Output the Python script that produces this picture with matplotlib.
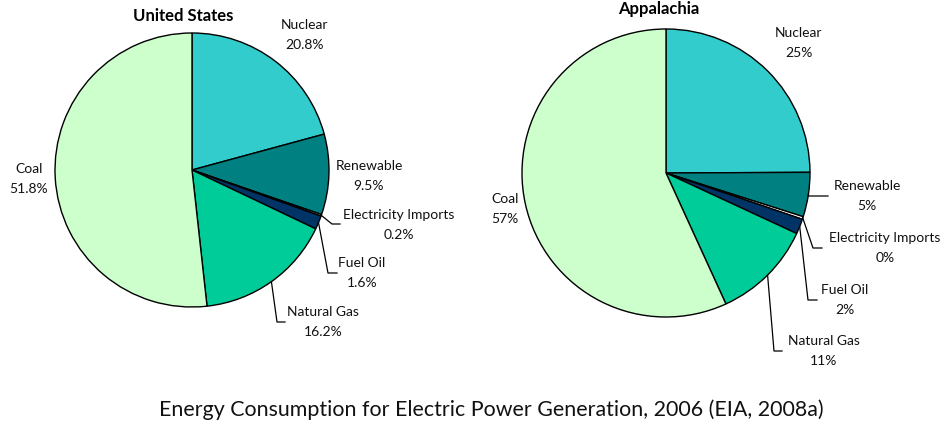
import matplotlib
matplotlib.use("Agg")
from matplotlib import pyplot as plt
import numpy as np

plt.rcParams['font.family'] = ['Lato', 'DejaVu Sans']

# data
sources = ['Nuclear', 'Renewable', 'Electricity Imports', 'Fuel Oil', 'Natural Gas', 'Coal']
us_share = [20.8, 9.5, 0.2, 1.6, 16.2, 51.8]
us_labels = ['20.8%', '9.5%', '0.2%', '1.6%', '16.2%', '51.8%']
app_share = [25, 5.0, 0.3, 1.7, 11.3, 57]
app_labels = ['25%', '5%', '0%', '2%', '11%', '57%']
colors = ['#33CCCC', '#008080', '#FFFFFF', '#003366', '#00CC99', '#CCFFCC']

W, H = 948, 428


def py(y):
    # pixel y (from top) -> data y
    return H - y


def draw_pie(ax, values, pct, center, radius, title, title_pos, label_pos, elbows):
    wedges, _ = ax.pie(values, colors=colors, startangle=90, counterclock=False,
                       center=(center[0], py(center[1])), radius=radius,
                       wedgeprops=dict(edgecolor='black', linewidth=1.0))
    ax.text(title_pos[0], py(title_pos[1]), title, ha='center', va='center',
            fontsize=12, fontweight='bold')
    for i, w in enumerate(wedges):
        tx, ty = label_pos[i]
        ax.text(tx, py(ty), sources[i] + '\n' + pct[i], ha='center', va='center',
                fontsize=10, linespacing=1.75, color='#111111')
        if elbows[i] is not None:
            ang = np.deg2rad((w.theta1 + w.theta2) / 2)
            sx = center[0] + radius * np.cos(ang)
            sy = py(center[1]) + radius * np.sin(ang)
            (ex, ey), endx = elbows[i]
            ax.plot([sx, ex, endx], [sy, py(ey), py(ey)], color='black', lw=0.9)


fig = plt.figure(figsize=(W / 100, H / 100), dpi=100)
ax = fig.add_axes([0, 0, 1, 1])

draw_pie(ax, us_share, us_labels, (192, 170), 137, 'United States', (183, 16),
         [(305, 35), (369, 176), (399, 225), (362, 273), (323, 322), (29, 179)],
         [None, None, ((332, 224), 340), ((328, 273), 337), ((277, 322), 285), None])

draw_pie(ax, app_share, app_labels, (666, 173), 144, 'Appalachia', (659, 9),
         [(799, 43), (867, 196), (885, 248), (845, 300), (824, 351), (505, 209)],
         [None, ((808, 196), 828), ((813, 248), 822), ((808, 300), 817), ((774, 351), 782), None])

ax.text(491, py(410), 'Energy Consumption for Electric Power Generation, 2006 (EIA, 2008a)',
        ha='center', va='center', fontsize=15.4, color='#111111')

ax.set_xlim(0, W)
ax.set_ylim(0, H)
ax.set_aspect('equal')
ax.axis('off')

fig.savefig('out.png', dpi=100)
